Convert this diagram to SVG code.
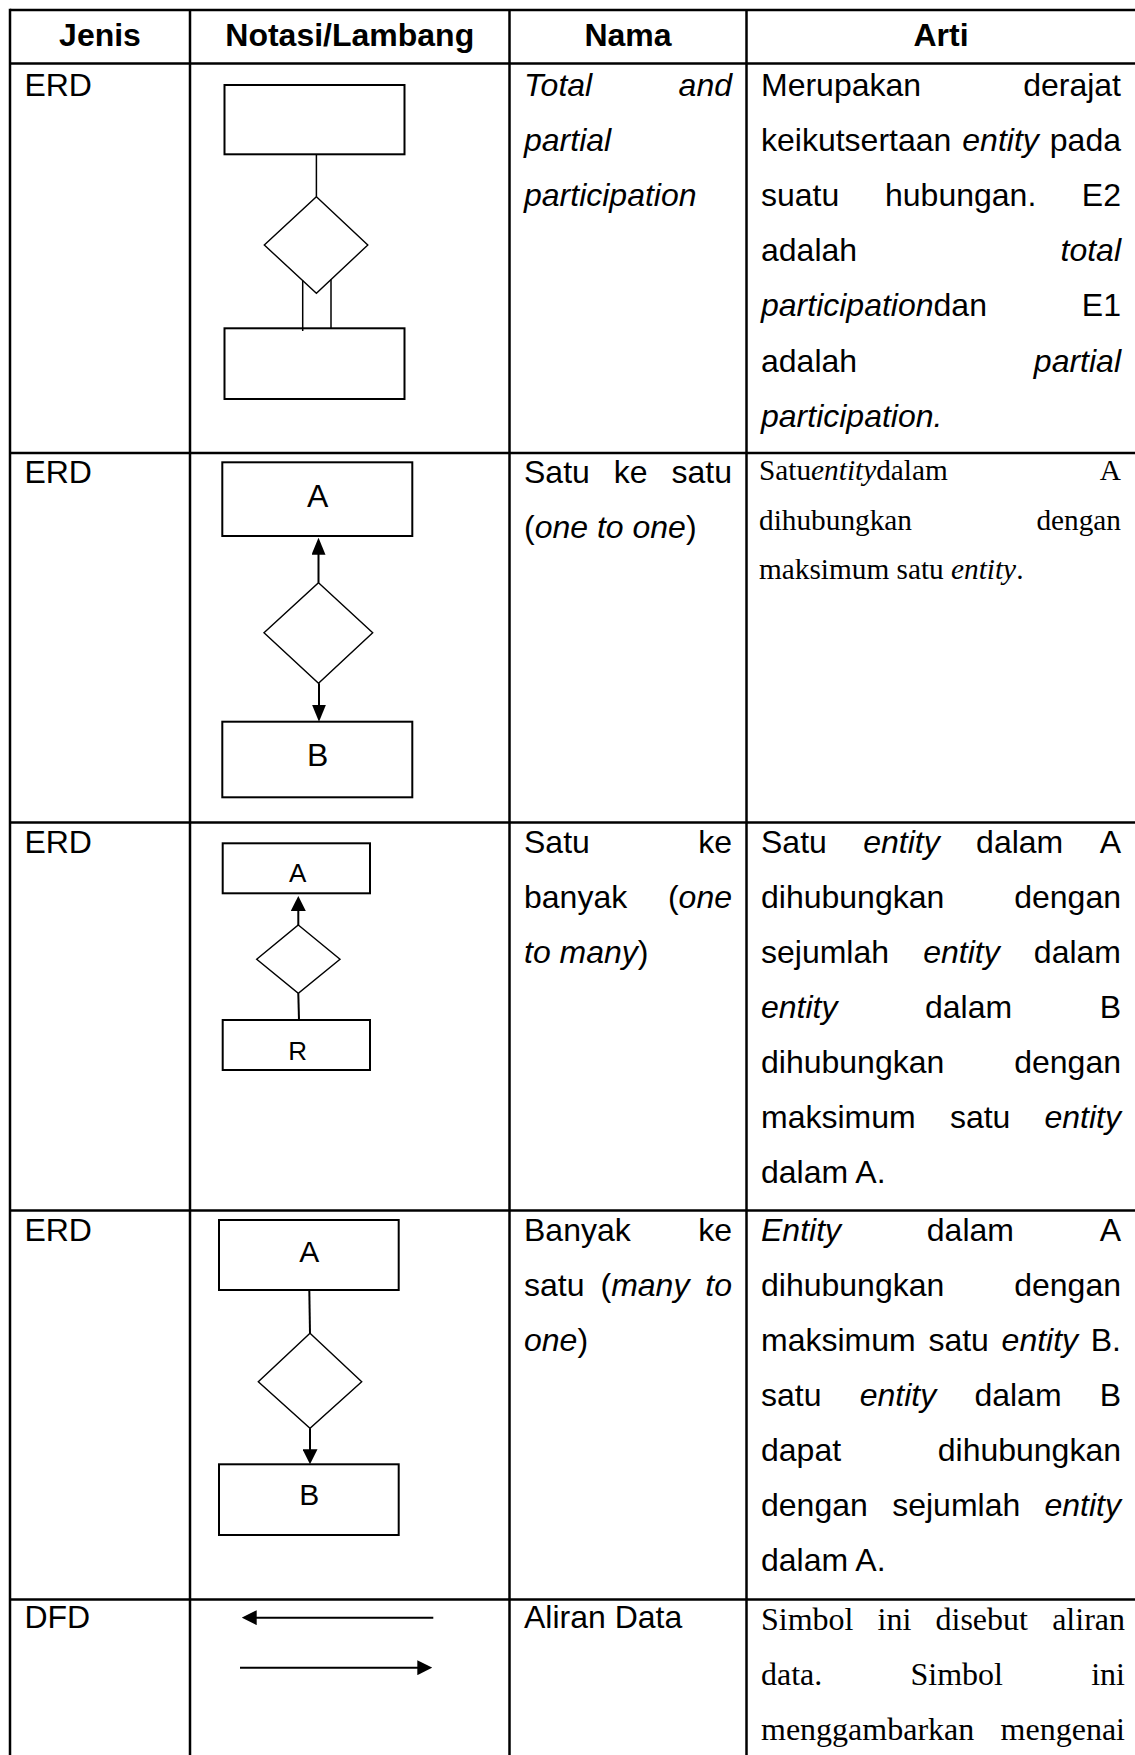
<svg xmlns="http://www.w3.org/2000/svg" width="1135" height="1755" viewBox="0 0 1135 1755">
<style>
.t{font-family:"Liberation Sans",Arial,sans-serif;font-size:32px;fill:#000}
.tm{font-family:"Liberation Serif","Times New Roman",serif;fill:#000}
.s29{font-size:29.3px}
.s32{font-size:32px}
.i{font-style:italic}
.h{font-weight:bold;text-anchor:middle}
.e{text-anchor:end}
.lbl{font-family:"Liberation Sans",Arial,sans-serif;fill:#000;text-anchor:middle}
.grid{stroke:#000;stroke-width:2.5;fill:none}
.box{fill:#fff;stroke:#000;stroke-width:2}
.dia{fill:#fff;stroke:#000;stroke-width:1.4}
.ln{stroke:#000;stroke-width:2;fill:none}
.ln1{stroke:#000;stroke-width:1.5;fill:none}
</style>
<defs>
<marker id="ah" markerUnits="userSpaceOnUse" viewBox="0 0 15 15" markerWidth="15" markerHeight="15" refX="3" refY="7.5" orient="auto"><path d="M0,0 L15,7.5 L0,15 z" fill="#000"/></marker>
<marker id="ah2" markerUnits="userSpaceOnUse" viewBox="0 0 17 14" markerWidth="17" markerHeight="14" refX="3" refY="7" orient="auto"><path d="M0,0 L17,7 L0,14 z" fill="#000"/></marker>
</defs>
<rect x="0" y="0" width="1135" height="1755" fill="#fff"/>

<g id="table-grid" class="grid">
<line x1="10" y1="10" x2="1135" y2="10"/>
<line x1="10" y1="63.5" x2="1135" y2="63.5"/>
<line x1="10" y1="453" x2="1135" y2="453"/>
<line x1="10" y1="822.5" x2="1135" y2="822.5"/>
<line x1="10" y1="1210.5" x2="1135" y2="1210.5"/>
<line x1="10" y1="1599.5" x2="1135" y2="1599.5"/>
<line x1="10" y1="8.75" x2="10" y2="1755"/>
<line x1="190" y1="10" x2="190" y2="1755"/>
<line x1="509.5" y1="10" x2="509.5" y2="1755"/>
<line x1="746.5" y1="10" x2="746.5" y2="1755"/>
</g>

<g id="header">
<text class="t h" x="100" y="46">Jenis</text>
<text class="t h" x="349.75" y="46">Notasi/Lambang</text>
<text class="t h" x="628" y="46">Nama</text>
<text class="t h" x="941" y="46">Arti</text>
</g>

<g id="row1">
<text class="t" x="24.4" y="95.5">ERD</text>
<text class="t i" x="524" y="95.5">Total</text>
<text class="t i e" x="732" y="95.5">and</text>
<text class="t i" x="524" y="150.7">partial</text>
<text class="t i" x="524" y="205.9">participation</text>
<text class="t" x="761" y="95.5">Merupakan</text>
<text class="t e" x="1121" y="95.5">derajat</text>
<text class="t" x="761" y="150.7">keikutsertaan</text>
<text class="t i" x="962.3" y="150.7">entity</text>
<text class="t e" x="1121" y="150.7">pada</text>
<text class="t" x="761" y="205.9">suatu</text>
<text class="t" x="885" y="205.9">hubungan.</text>
<text class="t e" x="1121" y="205.9">E2</text>
<text class="t" x="761" y="261.1">adalah</text>
<text class="t i e" x="1121" y="261.1">total</text>
<text class="t" x="761" y="316.3"><tspan class="i">participation</tspan>dan</text>
<text class="t e" x="1121" y="316.3">E1</text>
<text class="t" x="761" y="371.5">adalah</text>
<text class="t i e" x="1121" y="371.5">partial</text>
<text class="t i" x="761" y="426.7">participation.</text>
</g>

<g id="fig1">
<g id="fig1-entity1"><rect class="box" x="224.5" y="85" width="180" height="69.3"/></g>
<g id="fig1-relation"><polygon class="dia" points="316.4,196.7 367.8,245 316.4,293.3 264.3,245"/></g>
<g id="fig1-entity2"><rect class="box" x="224.5" y="328.3" width="180" height="70.7"/></g>
<g id="fig1-connectors">
<line class="ln1" x1="316.4" y1="154.3" x2="316.4" y2="196.7"/>
<line class="ln1" x1="302.7" y1="280.6" x2="302.7" y2="331"/>
<line class="ln1" x1="331" y1="279.6" x2="331" y2="328.3"/>
</g>
</g>

<g id="row2">
<text class="t" x="24.4" y="483">ERD</text>
<text class="t" x="524" y="483">Satu</text>
<text class="t" x="613.75" y="483">ke</text>
<text class="t e" x="732" y="483">satu</text>
<text class="t" x="524" y="538.2">(<tspan class="i">one to one</tspan>)</text>
<text class="tm s29" x="759" y="480">Satu<tspan class="i">entity</tspan>dalam</text>
<text class="tm s29 e" x="1121" y="480">A</text>
<text class="tm s29" x="759" y="529.7">dihubungkan</text>
<text class="tm s29 e" x="1121" y="529.7">dengan</text>
<text class="tm s29" x="759" y="579.4">maksimum satu <tspan class="i">entity</tspan>.</text>
</g>

<g id="fig2">
<g id="fig2-A"><rect class="box" x="222.3" y="462.3" width="190" height="73.7"/><text class="lbl" style="font-size:32px" x="317.7" y="506.7">A</text></g>
<g id="fig2-relation"><polygon class="dia" points="318.5,582.7 372.7,632.7 318.5,683.3 264,632.7"/></g>
<g id="fig2-B"><rect class="box" x="222.3" y="721.7" width="190" height="75.6"/><text class="lbl" style="font-size:32px" x="317.7" y="766">B</text></g>
<g id="fig2-connectors">
<line class="ln" x1="318.5" y1="582.7" x2="318.5" y2="551.7" marker-end="url(#ah2)"/>
<line class="ln" x1="319" y1="683.3" x2="319" y2="707.7" marker-end="url(#ah2)"/>
</g>
</g>

<g id="row3">
<text class="t" x="24.4" y="853.3">ERD</text>
<text class="t" x="524" y="853.3">Satu</text>
<text class="t e" x="732" y="853.3">ke</text>
<text class="t" x="524" y="908.3">banyak</text>
<text class="t e" x="732" y="908.3">(<tspan class="i">one</tspan></text>
<text class="t" x="524" y="963.3"><tspan class="i">to many</tspan>)</text>
<text class="t" x="761" y="853.3">Satu</text>
<text class="t i" x="863.2" y="853.3">entity</text>
<text class="t" x="976.1" y="853.3">dalam</text>
<text class="t e" x="1121" y="853.3">A</text>
<text class="t" x="761" y="908.3">dihubungkan</text>
<text class="t e" x="1121" y="908.3">dengan</text>
<text class="t" x="761" y="963.3">sejumlah</text>
<text class="t i" x="923.2" y="963.3">entity</text>
<text class="t e" x="1121" y="963.3">dalam</text>
<text class="t i" x="761" y="1018.3">entity</text>
<text class="t" x="925" y="1018.3">dalam</text>
<text class="t e" x="1121" y="1018.3">B</text>
<text class="t" x="761" y="1073.3">dihubungkan</text>
<text class="t e" x="1121" y="1073.3">dengan</text>
<text class="t" x="761" y="1128.3">maksimum</text>
<text class="t" x="949.9" y="1128.3">satu</text>
<text class="t i e" x="1121" y="1128.3">entity</text>
<text class="t" x="761" y="1183.3">dalam A.</text>
</g>

<g id="fig3">
<g id="fig3-A"><rect class="box" x="222.7" y="843.3" width="147.3" height="50"/><text class="lbl" style="font-size:26px" x="297.7" y="881.7">A</text></g>
<g id="fig3-relation"><polygon class="dia" points="298.3,925 340,959.3 298.3,993.3 256.7,959.3"/></g>
<g id="fig3-B"><rect class="box" x="222.7" y="1020" width="147.3" height="50"/><text class="lbl" style="font-size:26px" x="297.7" y="1060">R</text></g>
<g id="fig3-connectors">
<line class="ln" x1="298.3" y1="925" x2="298.3" y2="908" marker-end="url(#ah)"/>
<line class="ln" x1="298.3" y1="993.3" x2="299" y2="1020"/>
</g>
</g>

<g id="row4">
<text class="t" x="24.4" y="1241">ERD</text>
<text class="t" x="524" y="1241">Banyak</text>
<text class="t e" x="732" y="1241">ke</text>
<text class="t" x="524" y="1296">satu</text>
<text class="t" x="600.5" y="1296">(<tspan class="i">many</tspan></text>
<text class="t i e" x="732" y="1296">to</text>
<text class="t" x="524" y="1351"><tspan class="i">one</tspan>)</text>
<text class="t i" x="761" y="1241">Entity</text>
<text class="t" x="926.8" y="1241">dalam</text>
<text class="t e" x="1121" y="1241">A</text>
<text class="t" x="761" y="1296">dihubungkan</text>
<text class="t e" x="1121" y="1296">dengan</text>
<text class="t" x="761" y="1351">maksimum</text>
<text class="t" x="928.4" y="1351">satu</text>
<text class="t i" x="1001.6" y="1351">entity</text>
<text class="t e" x="1121" y="1351">B.</text>
<text class="t" x="761" y="1406">satu</text>
<text class="t i" x="859.7" y="1406">entity</text>
<text class="t" x="974.4" y="1406">dalam</text>
<text class="t e" x="1121" y="1406">B</text>
<text class="t" x="761" y="1461">dapat</text>
<text class="t e" x="1121" y="1461">dihubungkan</text>
<text class="t" x="761" y="1516">dengan</text>
<text class="t" x="892.2" y="1516">sejumlah</text>
<text class="t i e" x="1121" y="1516">entity</text>
<text class="t" x="761" y="1571">dalam A.</text>
</g>

<g id="fig4">
<g id="fig4-A"><rect class="box" x="219" y="1220" width="179.7" height="70"/><text class="lbl" style="font-size:30px" x="309.3" y="1261.7">A</text></g>
<g id="fig4-relation"><polygon class="dia" points="310,1333.3 361.7,1381.7 310,1428.3 258.3,1381.7"/></g>
<g id="fig4-B"><rect class="box" x="219" y="1464.3" width="179.7" height="70.7"/><text class="lbl" style="font-size:30px" x="309.3" y="1505">B</text></g>
<g id="fig4-connectors">
<line class="ln" x1="309.3" y1="1290" x2="310" y2="1333.3"/>
<line class="ln" x1="310" y1="1428.3" x2="310" y2="1452.3" marker-end="url(#ah)"/>
</g>
</g>

<g id="row5">
<text class="t" x="24.4" y="1628.3">DFD</text>
<text class="t" x="524" y="1628.3">Aliran Data</text>
<text class="tm s32" x="761" y="1630">Simbol</text>
<text class="tm s32" x="877.6" y="1630">ini</text>
<text class="tm s32" x="935.5" y="1630">disebut</text>
<text class="tm s32 e" x="1125" y="1630">aliran</text>
<text class="tm s32" x="761" y="1685">data.</text>
<text class="tm s32" x="910.5" y="1685">Simbol</text>
<text class="tm s32 e" x="1125" y="1685">ini</text>
<text class="tm s32" x="761" y="1740">menggambarkan</text>
<text class="tm s32 e" x="1125" y="1740">mengenai</text>
</g>

<g id="fig5">
<g id="fig5-connectors">
<line class="ln" x1="433.3" y1="1617.7" x2="253.7" y2="1617.7" marker-end="url(#ah)"/>
<line class="ln" x1="240" y1="1667.7" x2="420.3" y2="1667.7" marker-end="url(#ah)"/>
</g>
</g>
</svg>
